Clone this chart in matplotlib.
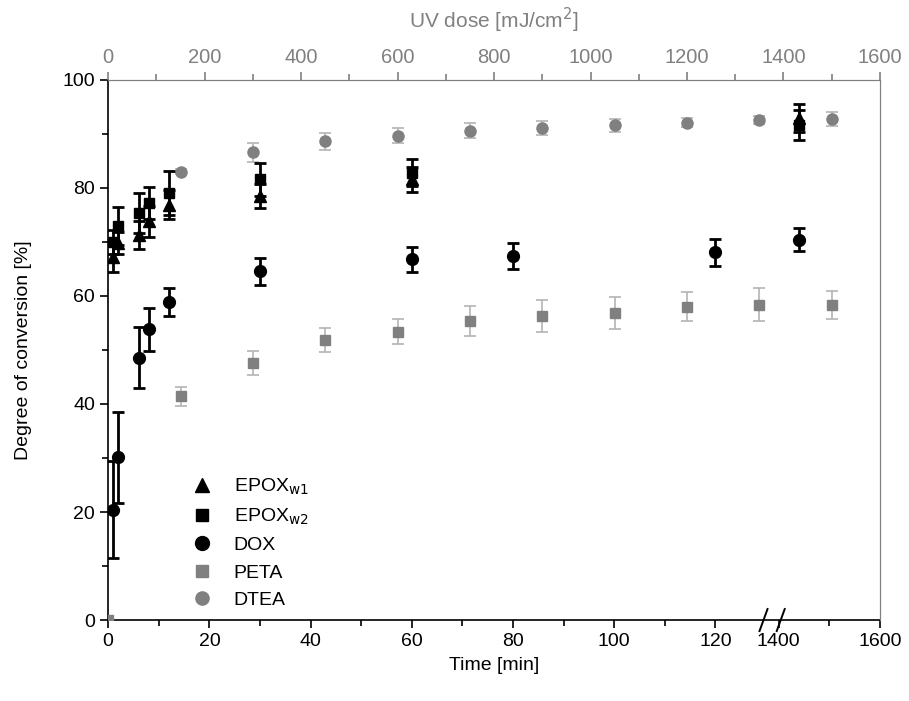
import numpy as np
import matplotlib
matplotlib.use("Agg")
import matplotlib.pyplot as plt
from matplotlib.ticker import FixedLocator
from matplotlib.lines import Line2D

plt.rcParams["font.family"] = ["Liberation Sans", "DejaVu Sans"]

# ---------------- data (time axis, min) ----------------
t_epox1 = [1, 2, 6, 8, 12, 30, 60, 1440]
epox1 = [67.2, 69.8, 71.3, 73.8, 76.9, 78.5, 81.6, 92.9]
epox1_err = [2.8, 2.0, 2.6, 2.8, 2.7, 2.3, 2.3, 2.6]

t_epox2 = [1, 2, 6, 8, 12, 30, 60, 1440]
epox2 = [70.0, 73.0, 75.3, 77.2, 79.1, 81.6, 82.8, 91.7]
epox2_err = [2.2, 3.5, 3.7, 2.9, 4.1, 3.1, 2.5, 2.8]

t_dox = [1, 2, 6, 8, 12, 30, 60, 80, 120, 1440]
dox = [20.4, 30.1, 48.6, 53.8, 58.9, 64.6, 66.8, 67.4, 68.1, 70.4]
dox_err = [9.0, 8.5, 5.7, 3.9, 2.6, 2.5, 2.35, 2.4, 2.5, 2.1]

# ---------------- data (UV dose axis, mJ/cm2) ----------------
dose_peta = [0, 150, 300, 450, 600, 750, 900, 1050, 1200, 1350, 1500]
peta = [0.0, 41.4, 47.6, 51.9, 53.4, 55.4, 56.3, 56.9, 58.0, 58.4, 58.4]
peta_err = [0.0, 1.7, 2.2, 2.25, 2.3, 2.8, 2.9, 3.0, 2.7, 3.0, 2.6]

dose_dtea = [150, 300, 450, 600, 750, 900, 1050, 1200, 1350, 1500]
dtea = [83.0, 86.6, 88.6, 89.7, 90.6, 91.1, 91.6, 92.1, 92.6, 92.8]
dtea_err = [0.5, 1.8, 1.6, 1.4, 1.4, 1.3, 1.2, 0.8, 0.8, 1.3]

# ---------------- broken time axis ----------------
T1, T2 = 130.0, 1380.0   # gap between T1 and T2 is squeezed
GAP = 0.5
K = 0.1                  # right segment compression


def fwd(t):
    t = np.asarray(t, float)
    return np.where(t <= T1, t,
                    np.where(t < T2, T1 + (t - T1) * GAP / (T2 - T1),
                             T1 + GAP + (t - T2) * K))


def inv(u):
    u = np.asarray(u, float)
    return np.where(u <= T1, u,
                    np.where(u < T1 + GAP, T1 + (u - T1) * (T2 - T1) / GAP,
                             T2 + (u - T1 - GAP) / K))


fig = plt.figure(figsize=(9.09, 7.01), dpi=100)
ax = fig.add_axes([0.119, 0.1155, 0.849, 0.7705])
ax.set_xscale("function", functions=(fwd, inv))
ax.set_xlim(0, 1600)
ax.set_ylim(0, 100)

gray = "#808080"
egray = "#b4b4b4"
narrow = ["Liberation Sans Narrow", "Liberation Sans"]

top = ax.twiny()
top.set_xlim(0, 1600)

# gray series against UV dose
top.errorbar(dose_peta, peta, yerr=peta_err, fmt="s", color=gray, ms=7.5,
             mec=gray, ecolor=egray, elinewidth=1.2, capsize=4, capthick=1.2, zorder=2)
top.errorbar(dose_dtea, dtea, yerr=dtea_err, fmt="o", color=gray, ms=8,
             mec=gray, ecolor=egray, elinewidth=1.2, capsize=4, capthick=1.2, zorder=2)

# black series against time (on top axes so they sit above the gray ones)
ebk = dict(color="black", ecolor="black", elinewidth=2, capsize=4.5, capthick=2,
           transform=ax.transData, zorder=3)
top.errorbar(t_dox, dox, yerr=dox_err, fmt="o", ms=8.5, **ebk)
top.errorbar(t_epox2, epox2, yerr=epox2_err, fmt="s", ms=7.5, **ebk)
top.errorbar(t_epox1, epox1, yerr=epox1_err, fmt="^", ms=8.5, **ebk)
top.set_ylim(0, 100)

# ---------------- ticks ----------------
ax.xaxis.set_major_locator(FixedLocator([0, 20, 40, 60, 80, 100, 120, 1400, 1600]))
ax.xaxis.set_minor_locator(FixedLocator([10, 30, 50, 70, 90, 110, 1500]))
ax.set_yticks([0, 20, 40, 60, 80, 100])
ax.set_yticks([10, 30, 50, 70, 90], minor=True)
ax.tick_params(axis="both", which="major", direction="out", length=6, width=1.2,
               labelsize=14, colors="black")
ax.tick_params(axis="both", which="minor", direction="out", length=4, width=1.2)

top.set_xticks(np.arange(0, 1601, 200))
top.set_xticks(np.arange(100, 1600, 200), minor=True)
top.tick_params(axis="x", which="major", direction="out", length=6, width=1.2,
                colors=gray, labelsize=14.5)
top.tick_params(axis="x", which="minor", direction="out", length=4, width=1.2, colors=gray)
for lab in top.get_xticklabels():
    lab.set_family(narrow)
top.yaxis.set_visible(False)

for sp in ("top", "right"):
    ax.spines[sp].set_color(gray)
    top.spines[sp].set_color(gray)
for sp in ("bottom", "left"):
    ax.spines[sp].set_linewidth(1.2)
top.spines["bottom"].set_visible(False)
top.spines["left"].set_visible(False)

# axis break marks "//"
fig.canvas.draw()
for xb in (129.5, 1404):
    x0, y0 = ax.transData.transform((xb, 0))
    fig.lines.append(Line2D([x0 - 4, x0 + 4], [y0 - 11, y0 + 11], transform=None,
                            color="black", lw=1.4))

ax.set_xlabel("Time [min]", fontsize=14, labelpad=5)
ax.set_ylabel("Degree of conversion [%]", fontsize=14, labelpad=22)
top.set_xlabel("UV dose [mJ/cm$^2$]", fontsize=15, color=gray, labelpad=14,
               family=narrow)

# ---------------- legend ----------------
handles = [
    Line2D([], [], ls="none", marker="^", ms=10, color="black"),
    Line2D([], [], ls="none", marker="s", ms=8, color="black"),
    Line2D([], [], ls="none", marker="o", ms=10, color="black"),
    Line2D([], [], ls="none", marker="s", ms=8, color=gray),
    Line2D([], [], ls="none", marker="o", ms=9.5, color=gray),
]
labels = ["EPOX$_{\\mathrm{w1}}$", "EPOX$_{\\mathrm{w2}}$", "DOX", "PETA", "DTEA"]
top.legend(handles, labels, loc="upper left", bbox_to_anchor=(0.097, 0.28),
           frameon=False, fontsize=14, handletextpad=1.0, labelspacing=0.5,
           borderaxespad=0, handlelength=1.2)

fig.savefig("out.png", dpi=100)
